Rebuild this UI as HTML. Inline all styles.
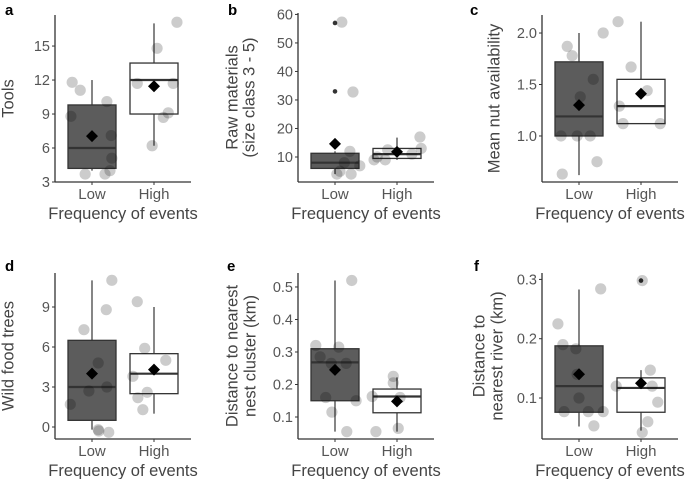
<!DOCTYPE html>
<html><head><meta charset="utf-8"><style>
body{margin:0;background:#fff}
svg{display:block;font-family:"Liberation Sans",sans-serif}
</style></head><body>
<svg id="chart" width="685" height="479" viewBox="0 0 685 479" xmlns="http://www.w3.org/2000/svg"></svg>
<script>
// Panel a: Tools
const aLowVals=[11.8,11.1,10.1,8.8,7.1,5.1,4.0,3.7,3.7];
const aLowJit=[-.32,-.19,.24,-.34,.31,.32,.29,-.11,.21];
const aHighVals=[17.1,14.8,11.7,11.7,9.1,8.7,6.2];
const aHighJit=[.37,.05,-.27,.31,.23,.15,-.03];
const aLowBox=[4,4.2,6,9.8,12]; const aHighBox=[6.2,9,12,13.5,17];
const aMeans=[7.05,11.45]; const aTicks=[3,6,9,12,15];
// Panel b: Raw materials
const bLowVals=[57.3,32.8,12,6.9,5,4,4,8];
const bLowJit=[.11,.29,.24,.40,.08,.03,.26,.15];
const bHighVals=[17,13,12.5,10,9,9,11];
const bHighJit=[.37,.39,-.15,-.32,-.19,-.37,.24];
const bLowBox=[4,6,8,11.3,12]; const bHighBox=[9,9.5,11,13,16.8];
const bMeans=[14.6,11.8]; const bTicks=[10,20,30,40,50,60];
const bLowOutliers=[57,33];
// Panel c: Mean nut availability
const cLowVals=[1.87,1.78,2.0,1.55,1.38,1.0,1.0,1.0,0.75,0.63];
const cLowJit=[-.19,-.11,.39,.23,.02,-.29,-.03,.18,.29,-.27];
const cHighVals=[2.11,1.67,1.44,1.29,1.12,1.12];
const cHighJit=[-.37,-.16,.1,-.35,-.29,.31];
const cLowBox=[0.62,1.0,1.19,1.72,2.0]; const cHighBox=[1.12,1.12,1.29,1.55,2.11];
const cMeans=[1.30,1.41]; const cTicks=[1.0,1.5,2.0];
// Panel d: Wild food trees
const dLowVals=[11,8.8,7.3,4.8,3.0,2.7,1.7,-0.2,-0.3,-0.4];
const dLowJit=[.32,.23,-.13,.1,.24,-.05,-.35,.1,.11,.27];
const dHighVals=[9.4,5.9,5.0,3.8,2.6,2.2,1.3];
const dHighJit=[-.27,-.15,.19,-.34,-.11,-.26,-.18];
const dLowBox=[-0.2,0.5,3,6.5,11]; const dHighBox=[1,2.5,4,5.5,9];
const dMeans=[4.0,4.3]; const dTicks=[0,3,6,9];
// Panel e: Distance to nest cluster
const eLowVals=[0.52,0.32,0.315,0.285,0.265,0.265,0.16,0.15,0.115,0.055];
const eLowJit=[.27,-.31,.06,-.24,-.06,.18,-.15,.34,-.05,.19];
const eHighVals=[0.225,0.205,0.163,0.16,0.065,0.055];
const eHighJit=[-.06,-.06,-.4,.05,.02,-.34];
const eLowBox=[0.055,0.15,0.268,0.31,0.52]; const eHighBox=[0.055,0.113,0.163,0.186,0.222];
const eMeans=[0.245,0.148]; const eTicks=[0.1,0.2,0.3,0.4,0.5];
// Panel f: Distance to river
const fLowVals=[0.284,0.225,0.19,0.183,0.14,0.1,0.077,0.077,0.077,0.053];
const fLowJit=[.35,-.34,-.26,-.05,-.03,0,-.24,.15,.39,.24];
const fHighVals=[0.298,0.147,0.12,0.12,0.093,0.06,0.042];
const fHighJit=[.02,.15,-.4,.18,.27,.11,.02];
const fLowBox=[0.052,0.076,0.12,0.188,0.283]; const fHighBox=[0.045,0.076,0.117,0.134,0.147];
const fMeans=[0.14,0.125]; const fTicks=[0.1,0.2,0.3];
const fHighOutliers=[0.298];

const NS="http://www.w3.org/2000/svg";
const svg=document.getElementById('chart');
function mk(tag,attrs,parent){const e=document.createElementNS(NS,tag);for(const k in attrs)e.setAttribute(k,attrs[k]);(parent||svg).appendChild(e);return e;}

function panel(o){
  const g=mk('g',{});
  
  
  const y=v=>o.py0+(v-o.d0)*(o.py1-o.py0)/(o.d1-o.d0);
  const cx=[o.ax+37,o.ax+99];
  const hw=24;
  const lab=mk('text',{x:o.lx,y:o.ly,'font-size':15,'font-weight':'bold',fill:'#000'},g);
  lab.textContent=o.letter;
  
  
  const ya=mk('line',{x1:o.ax,y1:o.py1,x2:o.ax,y2:o.py0,stroke:'#333','stroke-width':1.3},g);
  
  
  const xa=mk('line',{x1:o.ax,y1:o.py0,x2:o.ax+136,y2:o.py0,stroke:'#333','stroke-width':1.3},g);
  
  
  o.ticks.forEach(t=>{
    mk('line',{x1:o.ax-3,x2:o.ax,y1:y(t),y2:y(t),stroke:'#333','stroke-width':1},g);
    const tt=mk('text',{x:o.ax-5,y:y(t)+5,'font-size':14.5,fill:'#555','text-anchor':'end'},g);
    tt.textContent=o.fmt(t);
    
    
  });
  ['Low','High'].forEach((c,i)=>{
    mk('line',{x1:cx[i],x2:cx[i],y1:o.py0,y2:o.py0+3,stroke:'#333','stroke-width':1},g);
    const t=mk('text',{x:cx[i],y:o.py0+17,'font-size':15,fill:'#555','text-anchor':'middle'},g);
    t.textContent=c;
    
    
  });
  const xt=mk('text',{x:cx[0]+31,y:o.py0+37,'font-size':16.5,fill:'#444','text-anchor':'middle'},g);
  xt.textContent='Frequency of events';
  
  
  const midY=(o.py0+o.py1)/2;
  o.ytitle.forEach((line,i)=>{
    const tx=o.tx[i];
    const t=mk('text',{x:tx,y:midY,'font-size':16.5,fill:'#444','text-anchor':'middle',transform:`rotate(-90 ${tx} ${midY})`,'dominant-baseline':'middle'},g);
    t.textContent=line;
    
    
  });
  [o.lowBox,o.highBox].forEach((b,i)=>{
    const w=mk('line',{x1:cx[i],x2:cx[i],y1:y(b[0]),y2:y(b[4]),stroke:'#444','stroke-width':1.3},g);
    
    
    const r=mk('rect',{x:cx[i]-hw,y:y(b[3]),width:hw*2,height:y(b[1])-y(b[3]),fill:i?'#fff':'#5c5c5c',stroke:'#333','stroke-width':1.3},g);
    
    
    const m=mk('line',{x1:cx[i]-hw,x2:cx[i]+hw,y1:y(b[2]),y2:y(b[2]),stroke:'#333','stroke-width':2.2},g);
    
    
  });
  (o.outLow||[]).forEach(v=>{
    const c=mk('circle',{cx:cx[0],cy:y(v),r:2.3,fill:'#333'},g);
    
    
  });
  (o.outHigh||[]).forEach(v=>{
    const c=mk('circle',{cx:cx[1],cy:y(v),r:2.3,fill:'#333'},g);
    
    
  });
  [[o.lowVals,o.lowJit],[o.highVals,o.highJit]].forEach((s,i)=>{
    s[0].forEach((v,k)=>{
      const c=mk('circle',{cx:cx[i]+s[1][k]*62,cy:y(v),r:5.6,fill:'rgba(0,0,0,0.2)'},g);
      
      
    });
  });
  o.means.forEach((v,i)=>{
    const X=cx[i],Y=y(v),s=6;
    const d=mk('polygon',{points:`${X},${Y-s} ${X+s},${Y} ${X},${Y+s} ${X-s},${Y}`,fill:'#000'},g);
    
    
  });
}
const f0=v=>String(v), f1=v=>v.toFixed(1);
panel({letter:'a',lx:5,ly:15,ax:55,py0:182,py1:15,d0:3,d1:17.74,ticks:aTicks,fmt:f0,ytitle:['Tools'],tx:[9],
  lowVals:aLowVals,lowJit:aLowJit,highVals:aHighVals,highJit:aHighJit,lowBox:aLowBox,highBox:aHighBox,means:aMeans});
panel({letter:'b',lx:228,ly:15,ax:298,py0:182,py1:13,d0:1.23,d1:60.5,ticks:bTicks,fmt:f0,ytitle:['Raw materials','(size class 3 - 5)'],tx:[233,250],
  lowVals:bLowVals,lowJit:bLowJit,highVals:bHighVals,highJit:bHighJit,lowBox:bLowBox,highBox:bHighBox,means:bMeans,outLow:bLowOutliers});
panel({letter:'c',lx:470,ly:15,ax:542,py0:182,py1:15,d0:0.553,d1:2.175,ticks:cTicks,fmt:f1,ytitle:['Mean nut availability'],tx:[495],
  lowVals:cLowVals,lowJit:cLowJit,highVals:cHighVals,highJit:cHighJit,lowBox:cLowBox,highBox:cHighBox,means:cMeans});
panel({letter:'d',lx:5,ly:271,ax:55,py0:439,py1:273,d0:-0.9,d1:11.55,ticks:dTicks,fmt:f0,ytitle:['Wild food trees'],tx:[9],
  lowVals:dLowVals,lowJit:dLowJit,highVals:dHighVals,highJit:dHighJit,lowBox:dLowBox,highBox:dHighBox,means:dMeans});
panel({letter:'e',lx:227,ly:271,ax:298,py0:439,py1:273,d0:0.0323,d1:0.543,ticks:eTicks,fmt:f1,ytitle:['Distance to nearest','nest cluster (km)'],tx:[233,251],
  lowVals:eLowVals,lowJit:eLowJit,highVals:eHighVals,highJit:eHighJit,lowBox:eLowBox,highBox:eHighBox,means:eMeans});
panel({letter:'f',lx:474,ly:271,ax:542,py0:439,py1:273,d0:0.0309,d1:0.3108,ticks:fTicks,fmt:f1,ytitle:['Distance to','nearest river (km)'],tx:[480,498],
  lowVals:fLowVals,lowJit:fLowJit,highVals:fHighVals,highJit:fHighJit,lowBox:fLowBox,highBox:fHighBox,means:fMeans,outHigh:fHighOutliers});
</script>
</body></html>
